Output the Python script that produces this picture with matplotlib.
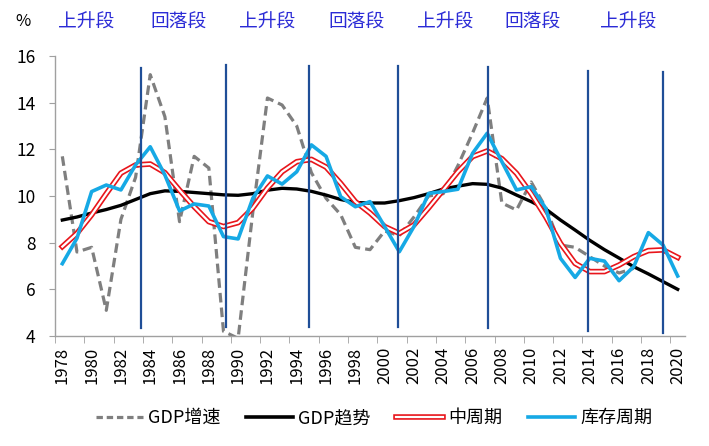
import matplotlib
matplotlib.use("Agg")
import matplotlib.pyplot as plt
from matplotlib.ticker import FixedLocator
from matplotlib.lines import Line2D
import matplotlib.patheffects as pe
import numpy as np

plt.rcParams['font.family'] = ['Noto Sans CJK SC', 'DejaVu Sans']

years = list(range(1978, 2021))

gdp_growth = [11.7, 7.6, 7.8, 5.1, 9.0, 10.8, 15.2, 13.4, 8.9, 11.7, 11.2, 4.2, 3.9,
              9.3, 14.2, 13.9, 13.0, 11.0, 9.9, 9.2, 7.8, 7.7, 8.5, 8.3, 9.1, 10.0,
              10.1, 11.3, 12.7, 14.2, 9.7, 9.4, 10.6, 9.5, 7.9, 7.8, 7.4, 7.0, 6.7, 6.9]

gdp_trend = [8.97, 9.1, 9.27, 9.42, 9.6, 9.85, 10.1, 10.22, 10.2, 10.15, 10.1, 10.05, 10.03,
             10.1, 10.25, 10.33, 10.3, 10.2, 10.04, 9.85, 9.72, 9.7, 9.7, 9.8, 9.93, 10.1,
             10.3, 10.42, 10.53, 10.5, 10.34, 10.04, 9.76, 9.44, 8.97, 8.54, 8.1, 7.7, 7.34,
             6.97, 6.66, 6.33, 6.0]

mid_cycle = [7.83, 8.4, 9.19, 10.1, 10.98, 11.33, 11.37, 11.0, 10.25, 9.54, 8.9, 8.69, 8.86,
             9.48, 10.34, 11.04, 11.47, 11.57, 11.24, 10.54, 9.76, 9.27, 8.69, 8.4, 8.76, 9.49,
             10.26, 11.04, 11.69, 11.93, 11.6, 10.97, 10.1, 9.1, 7.97, 7.11, 6.76, 6.76, 7.04,
             7.4, 7.66, 7.69, 7.37]

inventory_cycle = [7.1, 8.19, 10.19, 10.47, 10.26, 11.33, 12.11, 10.9, 9.36, 9.66, 9.57, 8.26, 8.16,
                   9.9, 10.86, 10.51, 11.04, 12.19, 11.7, 9.97, 9.54, 9.76, 8.69, 7.61, 8.69, 10.11,
                   10.19, 10.29, 11.83, 12.69, 11.47, 10.26, 10.4, 9.47, 7.33, 6.51, 7.33, 7.21, 6.37,
                   6.97, 8.43, 7.9, 6.57]

# phase divider lines (category-index positions) and their extents
divider_pos = [5.37, 11.15, 16.84, 22.9, 29.04, 35.88, 41.0]
divider_top = [15.49, 15.63, 15.57, 15.57, 15.53, 15.36, 15.31]
divider_bottom = [4.34, 4.39, 4.39, 4.39, 4.34, 4.21, 4.13]

phase_labels = ["上升段", "回落段", "上升段", "回落段", "上升段", "回落段", "上升段"]
phase_label_x = [86, 179, 267, 357, 445, 533, 628]

legend_labels = ["GDP增速", "GDP趋势", "中周期", "库存周期"]

fig = plt.figure(figsize=(7.09, 4.46), dpi=100)
ax = fig.add_axes([55/709, 1-336/446, 630/709, 280/446])

x = np.arange(len(years))
xg = np.arange(len(gdp_growth))

gray = '#7F7F7F'
blue = '#16A9E5'
red = '#E8151B'
dblue = '#1F4E97'

ax.plot(xg, gdp_growth, color=gray, lw=2.3, dashes=(3, 1.6), zorder=2, clip_on=True)
ax.plot(x, gdp_trend, color='black', lw=2.4, zorder=3, solid_joinstyle='round')
ax.plot(x, mid_cycle, color=red, lw=4.0, zorder=4, solid_joinstyle='round')
ax.plot(x, mid_cycle, color='white', lw=1.6, zorder=4.1, solid_joinstyle='round')
ax.plot(x, inventory_cycle, color=blue, lw=2.6, zorder=5, solid_joinstyle='round')

for p, t, b in zip(divider_pos, divider_top, divider_bottom):
    ax.plot([p, p], [b, t], color=dblue, lw=1.6, zorder=6)

ax.set_xlim(-0.5, len(years) - 0.5)
ax.set_ylim(4, 16)
ax.set_yticks(range(4, 17, 2))
ax.set_xticks(x[::2])
ax.set_xticklabels([str(y) for y in years[::2]], rotation=90)
ax.xaxis.set_minor_locator(FixedLocator(np.arange(-0.5, len(years) - 1, 2)))
ax.tick_params(axis='x', which='major', length=0, pad=8, labelsize=12)
ax.tick_params(axis='x', which='minor', length=5, color='#A0A0A0', direction='out')
ax.tick_params(axis='y', length=4, color='#A0A0A0', labelsize=12.5, pad=10)

for s in ['top', 'right']:
    ax.spines[s].set_visible(False)
for s in ['left', 'bottom']:
    ax.spines[s].set_color('#A0A0A0')
    ax.spines[s].set_linewidth(1.0)

fig.text(23/709, 1-22/446, "%", ha='center', va='center', fontsize=12, color='black')
for lab, px in zip(phase_labels, phase_label_x):
    fig.text(px/709, 1-22/446, lab, ha='center', va='center', fontsize=13.5, color='#2B2BD6')

handles = [
    Line2D([], [], color=gray, lw=2.3, dashes=(2, 1.2)),
    Line2D([], [], color='black', lw=2.6),
    Line2D([], [], color=red, lw=4.0, path_effects=[pe.Stroke(linewidth=4.0, foreground=red),
                                                     pe.Stroke(linewidth=1.6, foreground='white')]),
    Line2D([], [], color=blue, lw=2.6),
]
leg = fig.legend(handles, legend_labels, loc='center', bbox_to_anchor=(374/709, 1-418/446),
                 ncol=4, frameon=False, fontsize=13, handlelength=2.6, handletextpad=0.3,
                 columnspacing=1.4)

fig.savefig("out.png", dpi=100)
